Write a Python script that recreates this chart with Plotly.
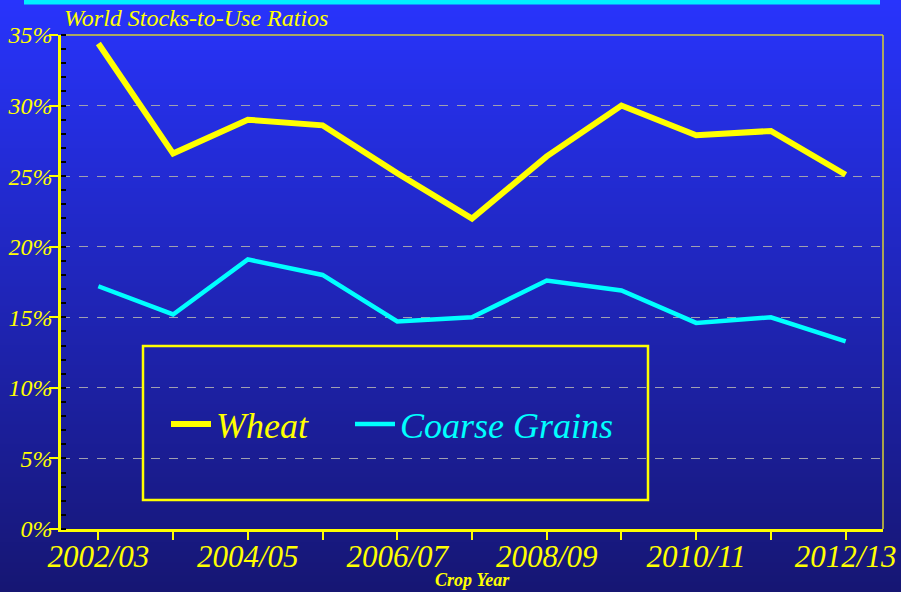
import base64, zlib, struct
import plotly.graph_objects as go

crop_years = ["2002/03", "2003/04", "2004/05", "2005/06", "2006/07", "2007/08",
              "2008/09", "2009/10", "2010/11", "2011/12", "2012/13"]
wheat = [34.4, 26.6, 29.0, 28.6, 25.2, 22.0, 26.4, 30.0, 27.9, 28.2, 25.1]
coarse_grains = [17.2, 15.2, 19.1, 18.0, 14.7, 15.0, 17.6, 16.9, 14.6, 15.0, 13.3]
y_ticks = [0, 5, 10, 15, 20, 25, 30, 35]
x_tick_labels = [c if i % 2 == 0 else "" for i, c in enumerate(crop_years)]

W, H = 901, 592
ML, MR, MT, MB = 61, 18, 35, 63
PW, PH = W - ML - MR, H - MT - MB


def px(x):
    return (x - ML) / PW


def py(y):
    return (H - MB - y) / PH


# vertical gradient background as a tiny PNG
def gradient_png(h, top, bottom):
    rows = b""
    for i in range(h):
        t = i / (h - 1)
        c = bytes(int(round(top[k] + (bottom[k] - top[k]) * t)) for k in range(3))
        rows += b"\x00" + c
    def chunk(tag, data):
        return struct.pack(">I", len(data)) + tag + data + struct.pack(">I", zlib.crc32(tag + data) & 0xffffffff)
    png = b"\x89PNG\r\n\x1a\n"
    png += chunk(b"IHDR", struct.pack(">IIBBBBB", 1, h, 8, 2, 0, 0, 0))
    png += chunk(b"IDAT", zlib.compress(rows))
    png += chunk(b"IEND", b"")
    return "data:image/png;base64," + base64.b64encode(png).decode()


bg = gradient_png(H, (40, 52, 252), (22, 22, 115))

SERIF = "Liberation Serif"
YEL = "#FFFF00"
CYAN = "#00FFFF"

fig = go.Figure()
fig.add_trace(go.Scatter(x=crop_years, y=wheat, mode="lines", name="Wheat",
                         line=dict(color=YEL, width=6), legend="legend"))
fig.add_trace(go.Scatter(x=crop_years, y=coarse_grains, mode="lines",
                         name="Coarse Grains", line=dict(color=CYAN, width=4.5),
                         legend="legend2"))

leg_common = dict(orientation="h", yanchor="middle", xanchor="left",
                  bgcolor="rgba(0,0,0,0)", borderwidth=0, itemwidth=40)

fig.update_layout(
    width=W, height=H,
    margin=dict(l=ML, r=MR, t=MT, b=MB, autoexpand=False),
    paper_bgcolor="#1e24b8",
    plot_bgcolor="rgba(0,0,0,0)",
    showlegend=True,
    legend=dict(x=px(166), y=py(424),
                font=dict(family=SERIF, size=36, color=YEL, style="italic"), **leg_common),
    legend2=dict(x=px(350), y=py(424),
                 font=dict(family=SERIF, size=36, color=CYAN, style="italic"), **leg_common),
    images=[dict(source=bg, xref="paper", yref="paper", x=px(0), y=py(0),
                 sizex=W / PW, sizey=H / PH, sizing="stretch", layer="below",
                 xanchor="left", yanchor="top")],
    xaxis=dict(type="category", range=[-0.5, 10.5], tickmode="array",
               tickvals=crop_years, ticktext=x_tick_labels, automargin=False,
               showline=True, linecolor=YEL, linewidth=2.5,
               ticks="outside", ticklen=8, tickwidth=1.5, tickcolor=YEL,
               ticklabelstandoff=-10,
               showgrid=False, zeroline=False,
               tickfont=dict(family=SERIF, size=31, color=YEL, style="italic")),
    yaxis=dict(range=[0, 35], tickmode="array", tickvals=y_ticks,
               ticktext=[f"{v}%" for v in y_ticks], automargin=False,
               showline=True, linecolor=YEL, linewidth=2.5,
               ticks="outside", ticklen=9, tickwidth=2, tickcolor=YEL,
               ticklabelstandoff=-8,
               showgrid=True, gridcolor="#a0a0b0", griddash="dash", gridwidth=1,
               zeroline=False,
               minor=dict(dtick=1, ticks="inside", ticklen=5, tickwidth=1.5,
                          tickcolor="#000000", showgrid=False),
               tickfont=dict(family=SERIF, size=24, color=YEL, style="italic")),
    shapes=[
        dict(type="rect", xref="paper", yref="paper", x0=px(24), x1=px(880),
             y0=py(4.5), y1=py(0), fillcolor="#00F0FF", line=dict(width=0)),
        dict(type="line", xref="paper", yref="paper", x0=1, x1=1, y0=0, y1=1,
             line=dict(color="#d8d030", width=1.5), layer="below"),
        dict(type="line", xref="paper", yref="paper", x0=0, x1=1, y0=1, y1=1,
             line=dict(color="#d8d030", width=1.5), layer="below"),
        dict(type="rect", xref="paper", yref="paper", x0=px(143), x1=px(648),
             y0=py(500), y1=py(346), line=dict(color=YEL, width=2.5),
             fillcolor="rgba(0,0,0,0)"),
    ],
    annotations=[
        dict(text="World Stocks-to-Use Ratios", xref="paper", yref="paper",
             x=px(62), y=py(18), xanchor="left", yanchor="middle", showarrow=False,
             font=dict(family=SERIF, size=24, color=YEL, style="italic")),
        dict(text="<b><i>Crop Year</i></b>", xref="paper", yref="paper",
             x=px(472), y=py(580), xanchor="center", yanchor="middle", showarrow=False,
             font=dict(family=SERIF, size=18, color=YEL)),
    ],
)

fig.write_html("out.html", config={"displayModeBar": False},
               post_script="document.body.style.margin='0';")
